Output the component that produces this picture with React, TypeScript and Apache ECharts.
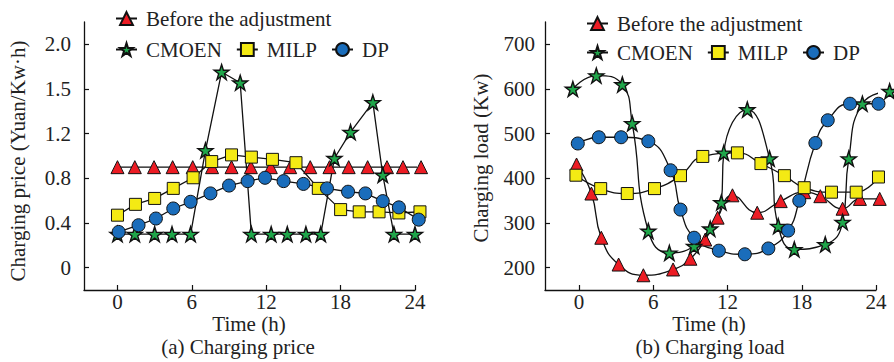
import React, { useEffect, useRef } from "react";
import * as echarts from "echarts";

// ---------- Data ----------
const priceTickValues = [0, 0.4, 0.8, 1.2, 1.5, 2.0];
const priceTickLabels = ["0", "0.4", "0.8", "1.2", "1.5", "2.0"];
const timeTicks = [0, 6, 12, 18, 24];
const loadTicks = [200, 300, 400, 500, 600, 700];

// (a) Charging price  [hour, Yuan/Kw·h]
const priceBefore = [
  [0, 0.9], [1.4, 0.9], [2.95, 0.9], [4.45, 0.9], [6.07, 0.9], [7.63, 0.9], [9.2, 0.9],
  [10.76, 0.9], [12.37, 0.9], [13.93, 0.9], [15.55, 0.9], [17.1, 0.9], [18.65, 0.9],
  [20.18, 0.9], [21.74, 0.9], [23.03, 0.9], [24.49, 0.9],
];
const priceCMOEN = [
  [0, 0.3], [1.4, 0.3], [3, 0.3], [4.4, 0.3], [5.9, 0.3], [7.1, 1.05], [8.4, 1.69], [9.9, 1.57],
  [10.8, 0.3], [12.4, 0.3], [13.7, 0.3], [15.2, 0.3], [16.4, 0.3], [17.5, 0.98], [18.8, 1.21],
  [20.6, 1.41], [21.4, 0.83], [22.3, 0.3], [24, 0.3],
];
const priceMILP = [
  [0, 0.47], [1.45, 0.567], [3.0, 0.62], [4.5, 0.71], [6.1, 0.805], [7.6, 0.95], [9.2, 1.01],
  [10.8, 0.99], [12.5, 0.97], [14.4, 0.94], [16.2, 0.71], [18, 0.52], [19.5, 0.5], [21.1, 0.5],
  [22.7, 0.49], [24.4, 0.5],
];
const priceDP = [
  [0.1, 0.32], [1.7, 0.38], [3.1, 0.44], [4.5, 0.53], [5.9, 0.59], [7.5, 0.665], [9.0, 0.735],
  [10.5, 0.775], [11.9, 0.805], [13.4, 0.775], [15.0, 0.75], [16.9, 0.71], [18.6, 0.68],
  [20, 0.665], [21.4, 0.596], [22.7, 0.54], [24.3, 0.43],
];

// (b) Charging load  [hour, Kw]
const loadBefore = [
  [-0.2, 431], [1.0, 366], [1.8, 267], [3.2, 207], [5.2, 183], [7.6, 196], [9.0, 220],
  [10.2, 263], [11.2, 312], [12.4, 362], [14.4, 323], [16.3, 349], [18.2, 369], [19.5, 360],
  [21.3, 332], [22.7, 354], [24.3, 354],
];
const loadCMOEN = [
  [-0.5, 600], [1.4, 630], [3.5, 610], [4.3, 523], [5.6, 282], [7.3, 233], [9.3, 248],
  [10.6, 287], [11.5, 346], [11.7, 457], [13.6, 554], [15.4, 444], [16.1, 293], [17.4, 241],
  [19.9, 252], [21.3, 302], [21.8, 444], [22.9, 567], [25.1, 595],
];
const loadMILP = [
  [-0.25, 407], [1.75, 377], [3.9, 366], [6.1, 377], [8.2, 406], [10.0, 449], [12.8, 457],
  [14.7, 433], [16.6, 406], [18.2, 379], [20.4, 369], [22.4, 369], [24.2, 403],
];
const loadDP = [
  [-0.1, 478], [1.6, 492], [3.4, 492], [5.6, 483], [7.4, 418], [8.2, 330], [9.3, 267],
  [11.3, 238], [13.4, 230], [15.3, 243], [16.9, 283], [17.8, 350], [19.1, 479], [20.1, 530],
  [21.9, 567], [24.2, 567],
];

const NAMES = ["Before the adjustment", "CMOEN", "MILP", "DP"];

// piecewise-linear position on the price axis (ticks equally spaced)
function pricePos(v: number): number {
  const t = priceTickValues;
  for (let i = 0; i < t.length - 1; i++) {
    if (v <= t[i + 1] || i === t.length - 2) {
      return i + (v - t[i]) / (t[i + 1] - t[i]);
    }
  }
  return 0;
}

const FONT = "'Liberation Serif', 'Times New Roman', 'DejaVu Serif', serif";
const TXT = "#222";
const STAR =
  "path://M50,0 L61.8,35.5 L99,35.5 L69,57.5 L80.5,93 L50,71 L19.5,93 L31,57.5 L1,35.5 L38.2,35.5 Z";

const markerStyles = [
  { symbol: "triangle", symbolSize: 13, color: "#ec1c24", bw: 1 },
  { symbol: STAR, symbolSize: 15, color: "#1fa64a", bw: 1.4 },
  { symbol: "rect", symbolSize: 12, color: "#f4ea14", bw: 1 },
  { symbol: "circle", symbolSize: 13, color: "#1a6dbb", bw: 1 },
];

function makeSeries(name: string, idx: number, data: number[][], gi: number, smooth: boolean) {
  const m = markerStyles[idx];
  return {
    name,
    type: "line",
    xAxisIndex: gi,
    yAxisIndex: gi,
    data,
    smooth: smooth ? 0.5 : false,
    clip: false,
    symbol: m.symbol,
    symbolSize: m.symbolSize,
    showAllSymbol: true,
    lineStyle: { color: "#111", width: 1.3 },
    itemStyle: { color: m.color, borderColor: "#111", borderWidth: m.bw },
    emphasis: { disabled: true },
  };
}

function axisCommon(gi: number) {
  return {
    gridIndex: gi,
    type: "value",
    splitLine: { show: false },
    axisLine: { show: true, onZero: false, lineStyle: { color: "#111", width: 1.3 } },
    axisTick: { show: true, inside: true, length: 5, lineStyle: { color: "#111", width: 1.2 } },
  };
}

function legendPair(left: number, top1: number, top2: number) {
  const base = {
    orient: "horizontal",
    left,
    itemWidth: 21,
    itemHeight: 16,
    itemGap: 14,
    selectedMode: false,
    textStyle: { fontFamily: FONT, fontSize: 21, color: TXT, padding: [0, 0, 0, 4] },
  };
  return [
    { ...base, top: top1, data: [NAMES[0]] },
    { ...base, top: top2, data: [NAMES[1], NAMES[2], NAMES[3]] },
  ];
}

export default function App() {
  const ref = useRef<HTMLDivElement>(null);
  useEffect(() => {
    if (!ref.current) return;
    const chart = echarts.init(ref.current, null, { renderer: "svg" });
    const label = { fontFamily: FONT, fontSize: 21, color: TXT };

    const option = {
      animation: false,
      backgroundColor: "#fff",
      grid: [
        { left: 84, top: 22, width: 331, height: 268 },
        { left: 545, top: 22, width: 331, height: 268 },
      ],
      legend: [...legendPair(110, 3, 34), ...legendPair(581, 8, 37)],
      xAxis: [
        {
          ...axisCommon(0),
          min: -2.7,
          max: 24,
          axisTick: { ...axisCommon(0).axisTick, customValues: timeTicks },
          axisLabel: { ...label, lineHeight: 16, margin: 4, customValues: timeTicks },
        },
        {
          ...axisCommon(1),
          min: -2.75,
          max: 24,
          axisTick: { ...axisCommon(1).axisTick, customValues: timeTicks },
          axisLabel: { ...label, lineHeight: 16, margin: 4, customValues: timeTicks },
        },
      ],
      yAxis: [
        {
          ...axisCommon(0),
          min: -0.5,
          max: 5.5,
          axisTick: { ...axisCommon(0).axisTick, customValues: priceTickValues.map((_, i) => i) },
          axisLabel: {
            ...label,
            margin: 13,
            customValues: priceTickValues.map((_, i) => i),
            formatter: (v: number) => priceTickLabels[Math.round(v)] ?? "",
          },
        },
        {
          ...axisCommon(1),
          min: 150,
          max: 750,
          axisTick: { ...axisCommon(1).axisTick, customValues: loadTicks },
          axisLabel: { ...label, margin: 10, customValues: loadTicks },
        },
      ],
      series: [
        makeSeries(NAMES[0], 0, priceBefore.map(([x, y]) => [x, pricePos(y)]), 0, false),
        makeSeries(NAMES[1], 1, priceCMOEN.map(([x, y]) => [x, pricePos(y)]), 0, false),
        makeSeries(NAMES[2], 2, priceMILP.map(([x, y]) => [x, pricePos(y)]), 0, false),
        makeSeries(NAMES[3], 3, priceDP.map(([x, y]) => [x, pricePos(y)]), 0, false),
        makeSeries(NAMES[0], 0, loadBefore, 1, true),
        makeSeries(NAMES[1], 1, loadCMOEN, 1, true),
        makeSeries(NAMES[2], 2, loadMILP, 1, true),
        makeSeries(NAMES[3], 3, loadDP, 1, true),
      ],
      graphic: [
        {
          type: "text",
          x: 18,
          y: 161,
          rotation: Math.PI / 2,
          style: { text: "Charging price (Yuan/Kw·h)", ...label, fill: TXT, align: "center", verticalAlign: "middle" },
        },
        {
          type: "text",
          x: 481,
          y: 158,
          rotation: Math.PI / 2,
          style: { text: "Charging load (Kw)", ...label, fill: TXT, align: "center", verticalAlign: "middle" },
        },
        {
          type: "text",
          x: 249,
          y: 324,
          style: { text: "Time (h)", ...label, lineHeight: 16, fill: TXT, align: "center", verticalAlign: "middle" },
        },
        {
          type: "text",
          x: 709,
          y: 324,
          style: { text: "Time (h)", ...label, lineHeight: 16, fill: TXT, align: "center", verticalAlign: "middle" },
        },
        {
          type: "text",
          x: 238,
          y: 347,
          style: { text: "(a) Charging price", ...label, lineHeight: 16, fill: TXT, align: "center", verticalAlign: "middle" },
        },
        {
          type: "text",
          x: 710,
          y: 347,
          style: { text: "(b) Charging load", ...label, lineHeight: 16, fill: TXT, align: "center", verticalAlign: "middle" },
        },
      ],
    };
    chart.setOption(option as any);
    return () => chart.dispose();
  }, []);

  return (
    <div
      ref={ref}
      style={{ position: "fixed", left: 0, top: 0, width: 894, height: 362, background: "#fff" }}
    />
  );
}
